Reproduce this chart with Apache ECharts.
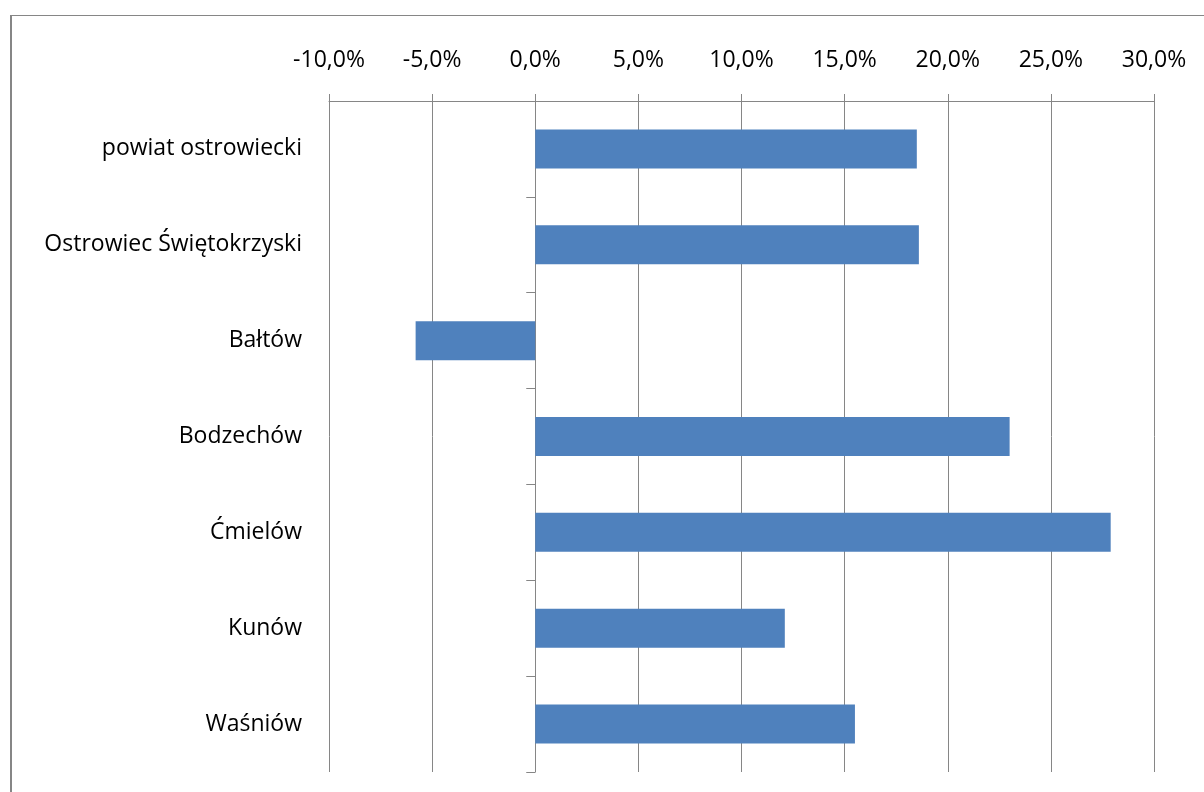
<!DOCTYPE html>
<html>
<head>
<meta charset="utf-8">
<script src="https://cdn.jsdelivr.net/npm/echarts@6/dist/echarts.min.js"></script>
<style>
  html, body { margin: 0; padding: 0; background: #fff; }
  #main { width: 1204px; height: 792px; position: relative; }
  #frame { position: absolute; left: 10px; top: 15px; width: 1300px; height: 900px;
           border-left: 2px solid #868686; border-top: 1px solid #868686; pointer-events: none; }
</style>
</head>
<body>
<div id="main"></div>
<div id="frame"></div>
<script>
// dane
const categories = ['powiat ostrowiecki', 'Ostrowiec Świętokrzyski', 'Bałtów', 'Bodzechów', 'Ćmielów', 'Kunów', 'Waśniów'];
const values = [18.5, 18.6, -5.8, 23.0, 27.9, 12.1, 15.5];
const axisMin = -10, axisMax = 30, axisStep = 5;

const fontFamily = '"Open Sans", sans-serif';
const gridColor = '#868686';

const myChart = echarts.init(document.getElementById('main'));

const option = {
    backgroundColor: '#fff',
    animation: false,
    grid: {
        left: 329,
        right: 50,
        top: 101,
        bottom: 20
    },
    xAxis: {
        type: 'value',
        position: 'top',
        min: axisMin,
        max: axisMax,
        interval: axisStep,
        axisLine: { show: true, lineStyle: { color: gridColor, width: 1 } },
        axisTick: { show: true, length: 7, lineStyle: { color: gridColor } },
        axisLabel: {
            margin: 29,
            color: '#000',
            fontFamily: fontFamily,
            fontSize: 23,
            formatter: v => v.toFixed(1).replace('.', ',') + '%'
        },
        splitLine: { show: true, lineStyle: { color: gridColor, width: 1 } }
    },
    yAxis: [{
        // etykiety kategorii przy lewej krawędzi
        type: 'category',
        data: categories,
        inverse: true,
        position: 'left',
        axisLine: { show: false, onZero: false },
        axisTick: { show: false },
        axisLabel: {
            margin: 27,
            color: '#000',
            fontFamily: fontFamily,
            fontSize: 23
        }
    }, {
        // oś na zerze z podziałkami
        type: 'category',
        data: categories,
        inverse: true,
        position: 'left',
        axisLine: { show: true, onZero: true, lineStyle: { color: gridColor, width: 1 } },
        axisTick: { show: true, length: 9, lineStyle: { color: gridColor } },
        axisLabel: { show: false }
    }],
    series: [{
        type: 'bar',
        data: values,
        barWidth: 39,
        itemStyle: { color: '#4f81bd' }
    }]
};

myChart.setOption(option);
</script>
</body>
</html>
